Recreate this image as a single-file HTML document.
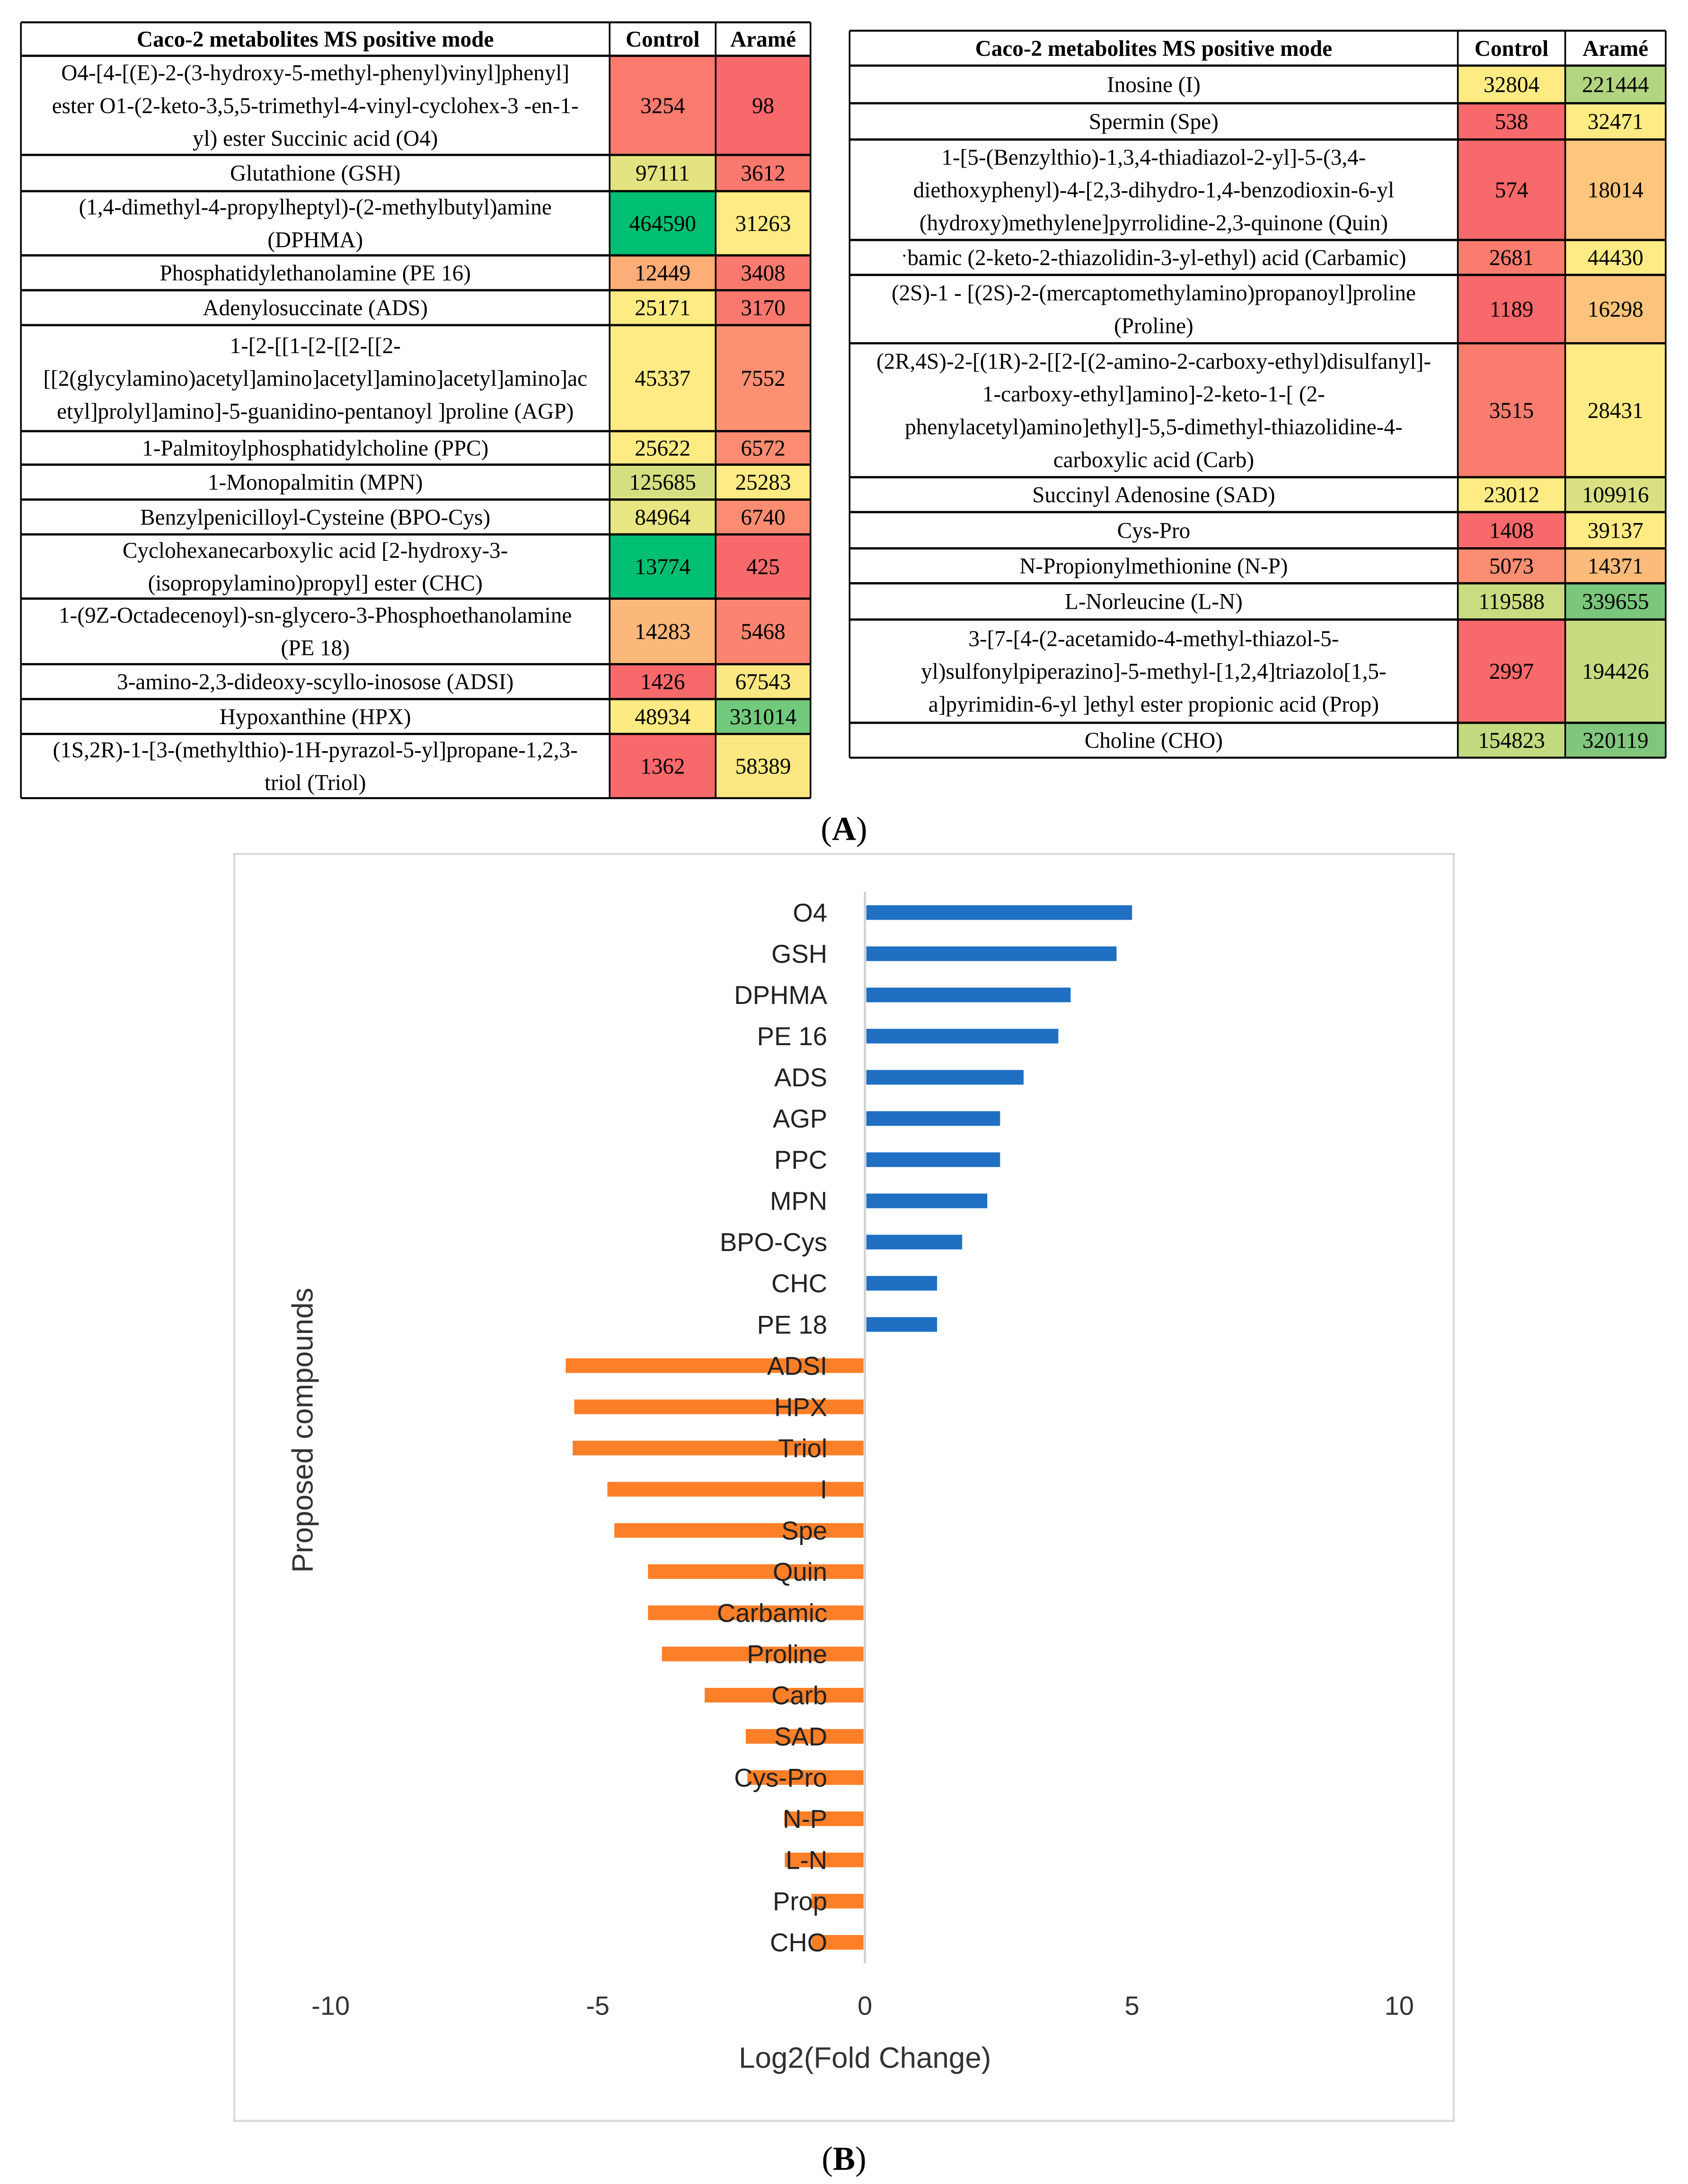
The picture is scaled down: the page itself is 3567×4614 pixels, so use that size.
<!DOCTYPE html>
<html><head><meta charset="utf-8"><style>
html,body{margin:0;padding:0;background:#fff;}
svg{display:block;}
</style></head><body>
<svg id="fig" xmlns="http://www.w3.org/2000/svg" width="3567" height="4614" viewBox="0 0 1210 1565.2" preserveAspectRatio="none">
<rect x="0" y="0" width="1210" height="1565.2" fill="#fff"/>
<g id="tables"></g>
<text x="605" y="602" text-anchor="middle" font-family="Liberation Serif, serif" font-size="24">(<tspan font-weight="bold">A</tspan>)</text>
<rect x="168" y="612" width="874" height="908" fill="none" stroke="#D9D9D9" stroke-width="1.5"/>
<g id="chart"></g>
<text x="605" y="1555" text-anchor="middle" font-family="Liberation Serif, serif" font-size="24">(<tspan font-weight="bold">B</tspan>)</text>
</svg>
<script>
var NS='http://www.w3.org/2000/svg';
// ---------- chart data ----------
var categories=['O4','GSH','DPHMA','PE 16','ADS','AGP','PPC','MPN','BPO-Cys','CHC','PE 18','ADSI','HPX','Triol','I','Spe','Quin','Carbamic','Proline','Carb','SAD','Cys-Pro','N-P','L-N','Prop','CHO'];
var foldValues=[5.0,4.71,3.85,3.62,2.97,2.53,2.53,2.29,1.82,1.35,1.35,-5.6,-5.44,-5.47,-4.82,-4.69,-4.06,-4.06,-3.8,-3.0,-2.23,-2.2,-1.51,-1.5,-1.0,-1.0];
var xTicks=[-10,-5,0,5,10];
var xTickLabels=['-10','-5','0','5','10'];

// ---------- table data ----------
var leftRows=[
 [40,111,['O4-[4-[(E)-2-(3-hydroxy-5-methyl-phenyl)vinyl]phenyl]','ester O1-(2-keto-3,5,5-trimethyl-4-vinyl-cyclohex-3 -en-1-','yl) ester Succinic acid (O4)'],'3254','98','#FB7B6F','#F8696B'],
 [111,137,['Glutathione (GSH)'],'97111','3612','#E3E381','#FA796E'],
 [137,183,['(1,4-dimethyl-4-propylheptyl)-(2-methylbutyl)amine','(DPHMA)'],'464590','31263','#00BF73','#FFEB84'],
 [183,208,['Phosphatidylethanolamine (PE 16)'],'12449','3408','#FCAD78','#FA796E'],
 [208,233,['Adenylosuccinate (ADS)'],'25171','3170','#FFEB84','#FA796E'],
 [233,309,['1-[2-[[1-[2-[[2-[[2-','[[2(glycylamino)acetyl]amino]acetyl]amino]acetyl]amino]ac','etyl]prolyl]amino]-5-guanidino-pentanoyl ]proline (AGP)'],'45337','7552','#FFEB84','#FB9172'],
 [309,333,['1-Palmitoylphosphatidylcholine (PPC)'],'25622','6572','#FFEB84','#FB8C71'],
 [333,358,['1-Monopalmitin (MPN)'],'125685','25283','#D5DF82','#FFEB84'],
 [358,383,['Benzylpenicilloyl-Cysteine (BPO-Cys)'],'84964','6740','#E8E583','#FB8C71'],
 [383,429,['Cyclohexanecarboxylic acid [2-hydroxy-3-','(isopropylamino)propyl] ester (CHC)'],'13774','425','#00BF73','#F8696B'],
 [429,476,['1-(9Z-Octadecenoyl)-sn-glycero-3-Phosphoethanolamine','(PE 18)'],'14283','5468','#FCB77A','#FA8470'],
 [476,501,['3-amino-2,3-dideoxy-scyllo-inosose (ADSI)'],'1426','67543','#F8696B','#FBE882'],
 [501,526,['Hypoxanthine (HPX)'],'48934','331014','#FDEA83','#71C97B'],
 [526,572,['(1S,2R)-1-[3-(methylthio)-1H-pyrazol-5-yl]propane-1,2,3-','triol (Triol)'],'1362','58389','#F8696B','#FBE882']
];
var rightRows=[
 [47,74,['Inosine (I)'],'32804','221444','#FFEB84','#B1D580'],
 [74,100,['Spermin (Spe)'],'538','32471','#F8696B','#FFEB84'],
 [100,172,['1-[5-(Benzylthio)-1,3,4-thiadiazol-2-yl]-5-(3,4-','diethoxyphenyl)-4-[2,3-dihydro-1,4-benzodioxin-6-yl','(hydroxy)methylene]pyrrolidine-2,3-quinone  (Quin)'],'574','18014','#F8696B','#FEC57D'],
 [172,197,['\u02d1bamic (2-keto-2-thiazolidin-3-yl-ethyl) acid (Carbamic)'],'2681','44430','#FA7C6E','#FFEB84'],
 [197,246,['(2S)-1 - [(2S)-2-(mercaptomethylamino)propanoyl]proline','(Proline)'],'1189','16298','#F8696B','#FEC47D'],
 [246,342,['(2R,4S)-2-[(1R)-2-[[2-[(2-amino-2-carboxy-ethyl)disulfanyl]-','1-carboxy-ethyl]amino]-2-keto-1-[ (2-','phenylacetyl)amino]ethyl]-5,5-dimethyl-thiazolidine-4-','carboxylic acid (Carb)'],'3515','28431','#FA7C6E','#FFEB84'],
 [342,367,['Succinyl Adenosine (SAD)'],'23012','109916','#FFEB84','#D9E082'],
 [367,393,['Cys-Pro'],'1408','39137','#F8696B','#FFEB84'],
 [393,418,['N-Propionylmethionine (N-P)'],'5073','14371','#FB8D72','#FDBB7B'],
 [418,444,['L-Norleucine (L-N)'],'119588','339655','#CADC81','#7AC67C'],
 [444,518,['3-[7-[4-(2-acetamido-4-methyl-thiazol-5-','yl)sulfonylpiperazino]-5-methyl-[1,2,4]triazolo[1,5-','a]pyrimidin-6-yl ]ethyl ester propionic acid (Prop)'],'2997','194426','#F8696B','#C7DB81'],
 [518,543,['Choline (CHO)'],'154823','320119','#C2DA80','#80C77D']
];

function mk(tag,attrs,parent){var e=document.createElementNS(NS,tag);for(var k in attrs){e.setAttribute(k,attrs[k]);}parent.appendChild(e);return e;}

var tg=document.getElementById('tables');
function drawTable(cols,headTop,headBot,rows,prefix){
  var x0=cols[0],x1=cols[1],x2=cols[2],x3=cols[3];
  var hf={'font-family':'Liberation Serif, serif','font-size':'16','font-weight':'bold','text-anchor':'middle'};
  var heads=[['Caco-2 metabolites MS positive mode',(x0+x1)/2],['Control',(x1+x2)/2],['Aramé',(x2+x3)/2]];
  for(var h=0;h<3;h++){
    var a=Object.assign({x:heads[h][1],y:(headTop+headBot)/2+5.5},hf);
    var t=mk('text',a,tg);t.textContent=heads[h][0];
    
    
  }
  for(var i=0;i<rows.length;i++){
    var r=rows[i],top=r[0],bot=r[1],mid=(top+bot)/2;
    var c1=mk('rect',{x:x1,y:top,width:x2-x1,height:bot-top,fill:r[5]},tg);
    
    
    var c2=mk('rect',{x:x2,y:top,width:x3-x2,height:bot-top,fill:r[6]},tg);
    
    
    var lines=r[2],n=lines.length,lh=23.5;
    for(var j=0;j<n;j++){
      var ty=mid+(j-(n-1)/2)*lh+5.5;
      var t=mk('text',{x:(x0+x1)/2,y:ty,'font-family':'Liberation Serif, serif','font-size':'16','text-anchor':'middle'},tg);
      t.textContent=lines[j];
      
      
    }
    var v1=mk('text',{x:(x1+x2)/2,y:mid+5.5,'font-family':'Liberation Serif, serif','font-size':'16','text-anchor':'middle'},tg);
    v1.textContent=r[3];
    
    
    var v2=mk('text',{x:(x2+x3)/2,y:mid+5.5,'font-family':'Liberation Serif, serif','font-size':'16','text-anchor':'middle'},tg);
    v2.textContent=r[4];
    
    
  }
  var bottom=rows[rows.length-1][1];
  var ys=[headTop,headBot];for(var i=0;i<rows.length;i++)ys.push(rows[i][1]);
  for(var k=0;k<ys.length;k++){
    var l=mk('line',{x1:x0,x2:x3,y1:ys[k],y2:ys[k],stroke:'#000','stroke-width':(k==0||k==ys.length-1)?1.4:1.6},tg);
    
    
  }
  var xs=[x0,x1,x2,x3];
  for(var k=0;k<4;k++){
    var l=mk('line',{x1:xs[k],x2:xs[k],y1:headTop,y2:bottom,stroke:'#000','stroke-width':1.2},tg);
    
    
  }
}
drawTable([15,437,513,581],16,40,leftRows,'left-table');
drawTable([609,1045,1122,1194],22,47,rightRows,'right-table');

// ---------- chart ----------
var cg=document.getElementById('chart');
var X0=620, PXU=38.3, Y0=654, STEP=29.52, BARH=10.5;
function xs(v){return X0+v*PXU;}
function ys(i){return Y0+i*STEP;}

for(var i=0;i<categories.length;i++){
  var v=foldValues[i];
  var x=v>=0?xs(0)+1:xs(v), w=Math.abs(xs(v)-xs(0))-1;
  var b=mk('rect',{x:x,y:ys(i)-BARH/2,width:w,height:BARH,fill:v>=0?'#1F6FC3':'#FD7F28'},cg);
  
  
}
var ax=mk('line',{x1:xs(0),x2:xs(0),y1:ys(0)-15,y2:ys(categories.length-1)+15,stroke:'#D0D0D0','stroke-width':1.5},cg);


for(var i=0;i<categories.length;i++){
  var t=mk('text',{x:593,y:ys(i)+6.5,'font-family':'Liberation Sans, sans-serif','font-size':'18.5','text-anchor':'end',fill:'#222'},cg);
  t.textContent=categories[i];
  
  
}
for(var k=0;k<xTicks.length;k++){
  var t=mk('text',{x:xs(xTicks[k]),y:1444,'font-family':'Liberation Sans, sans-serif','font-size':'19','text-anchor':'middle',fill:'#333'},cg);
  t.textContent=xTickLabels[k];
  
  
}
var xt=mk('text',{x:620,y:1482,'font-family':'Liberation Sans, sans-serif','font-size':'21','text-anchor':'middle',fill:'#333'},cg);
xt.textContent='Log2(Fold Change)';


var yt=mk('text',{x:0,y:0,transform:'translate(224,1025) rotate(-90)','font-family':'Liberation Sans, sans-serif','font-size':'21','text-anchor':'middle',fill:'#333'},cg);
yt.textContent='Proposed compounds';


</script>
</body></html>
